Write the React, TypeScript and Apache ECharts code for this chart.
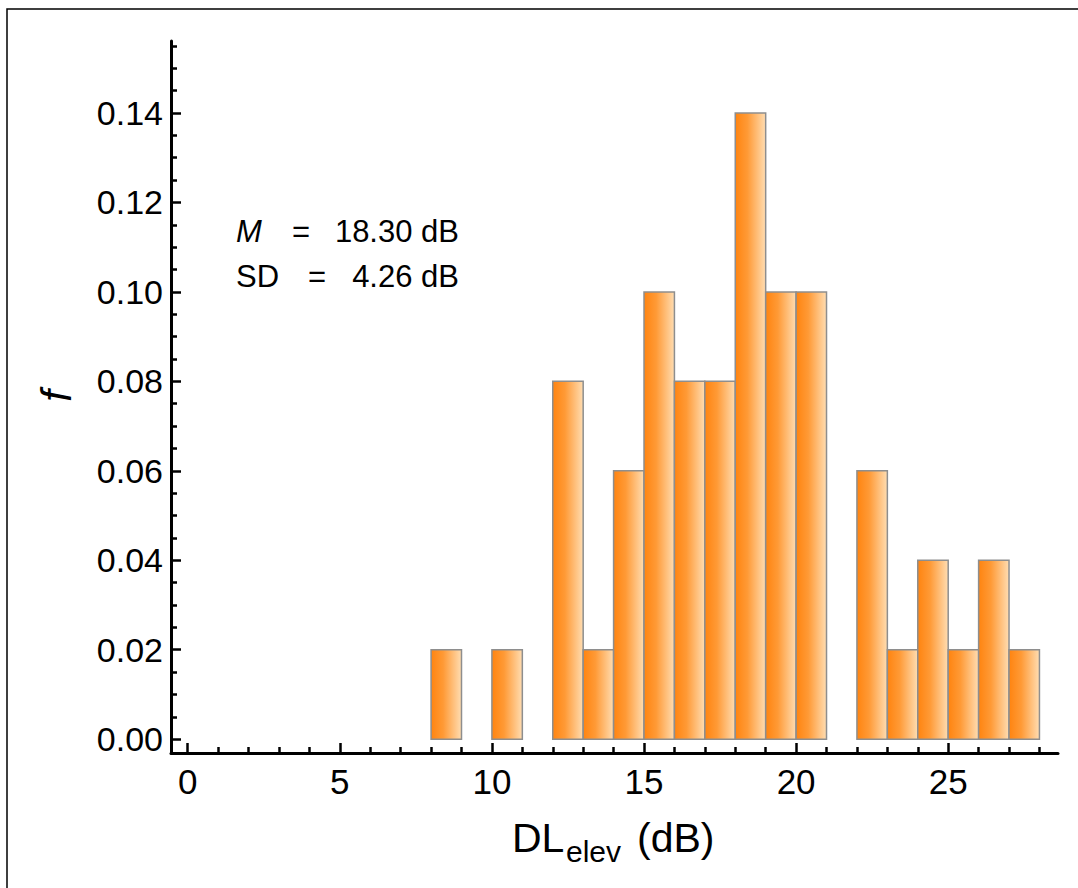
import React, { useEffect, useRef } from "react";
import * as echarts from "echarts";

// Histogram bins (lower edge, dB) and relative frequencies
const binStarts = [8, 10, 12, 13, 14, 15, 16, 17, 18, 19, 20, 22, 23, 24, 25, 26, 27];
const freqs = [0.02, 0.02, 0.08, 0.02, 0.06, 0.1, 0.08, 0.08, 0.14, 0.1, 0.1, 0.06, 0.02, 0.04, 0.02, 0.04, 0.02];
const binWidth = 1;

const xMajor = [0, 5, 10, 15, 20, 25];
const xMinor = [1, 2, 3, 4, 6, 7, 8, 9, 11, 12, 13, 14, 16, 17, 18, 19, 21, 22, 23, 24, 26, 27, 28];
const yMajor = [0, 0.02, 0.04, 0.06, 0.08, 0.1, 0.12, 0.14];
const yMinor = [0.005, 0.01, 0.015, 0.025, 0.03, 0.035, 0.045, 0.05, 0.055, 0.065, 0.07, 0.075, 0.085, 0.09, 0.095, 0.105, 0.11, 0.115, 0.125, 0.13, 0.135, 0.145, 0.15, 0.155];

const statsLabels = ["M", "SD"];
const statsValues = ["18.30 dB", "4.26 dB"];

const X_MIN = -0.55;
const X_MAX = 28.61;
const Y_MIN = -0.0031;
const Y_MAX = 0.1561;

const FONT = "'Liberation Sans', Arial, Helvetica, sans-serif";

export default function App() {
  const ref = useRef<HTMLDivElement>(null);

  useEffect(() => {
    if (!ref.current) return;
    const chart = echarts.init(ref.current, null, { renderer: "svg" });

    const data = binStarts.map((s, i) => [s, s + binWidth, freqs[i]]);

    const gradient = new echarts.graphic.LinearGradient(0, 0, 1, 0, [
      { offset: 0, color: "#FF8410" },
      { offset: 0.4, color: "#FF9A36" },
      { offset: 1, color: "#FFDDB2" },
    ]);

    const axisCommon = {
      type: "value" as const,
      splitLine: { show: false },
    };

    const option: any = {
      animation: false,
      backgroundColor: "#fff",
      grid: { left: 171, right: 20, top: 41, bottom: 135, containLabel: false },
      xAxis: [
        {
          ...axisCommon,
          min: X_MIN,
          max: X_MAX,
          position: "bottom",
          axisLine: { show: true, onZero: false, lineStyle: { color: "#000", width: 3 } },
          axisTick: { show: true, inside: true, length: 10, customValues: xMajor, lineStyle: { color: "#000", width: 2.5 } },
          axisLabel: { show: true, customValues: xMajor, fontSize: 35, color: "#000", margin: 11, fontFamily: FONT },
        },
        {
          ...axisCommon,
          min: X_MIN,
          max: X_MAX,
          position: "bottom",
          axisLine: { show: false, onZero: false },
          axisTick: { show: true, inside: true, length: 6, customValues: xMinor, lineStyle: { color: "#000", width: 2.5 } },
          axisLabel: { show: false },
        },
      ],
      yAxis: [
        {
          ...axisCommon,
          min: Y_MIN,
          max: Y_MAX,
          position: "left",
          axisLine: { show: true, onZero: false, lineStyle: { color: "#000", width: 3 } },
          axisTick: { show: true, inside: true, length: 10, customValues: yMajor, lineStyle: { color: "#000", width: 2.5 } },
          axisLabel: {
            show: true,
            customValues: yMajor,
            fontSize: 34,
            color: "#000",
            margin: 8,
            fontFamily: FONT,
            formatter: (v: number) => v.toFixed(2),
          },
        },
        {
          ...axisCommon,
          min: Y_MIN,
          max: Y_MAX,
          position: "left",
          axisLine: { show: false, onZero: false },
          axisTick: { show: true, inside: true, length: 6, customValues: yMinor, lineStyle: { color: "#000", width: 2.5 } },
          axisLabel: { show: false },
        },
      ],
      series: [
        {
          type: "custom",
          xAxisIndex: 0,
          yAxisIndex: 0,
          data,
          renderItem: (params: any, api: any) => {
            const x0 = api.value(0);
            const x1 = api.value(1);
            const y = api.value(2);
            const p0 = api.coord([x0, y]);
            const p1 = api.coord([x1, 0]);
            return {
              type: "rect",
              shape: { x: p0[0], y: p0[1], width: p1[0] - p0[0], height: p1[1] - p0[1] },
              style: { fill: gradient, stroke: "#8E8E8E", lineWidth: 1.5 },
            };
          },
          encode: { x: [0, 1], y: 2 },
        },
      ],
      graphic: [
        {
          type: "rect",
          shape: { x: 7, y: 9, width: 1200, height: 1000 },
          style: { fill: "none", stroke: "#000", lineWidth: 1.5 },
          silent: true,
        },
        {
          type: "text",
          x: 56,
          y: 396,
          rotation: Math.PI / 2,
          style: { text: "f", fontSize: 42, fontStyle: "italic", fontFamily: FONT, fill: "#000", align: "center", verticalAlign: "middle" },
        },
        {
          type: "text",
          x: 512,
          y: 838,
          style: { text: "DL", fontSize: 41, fontFamily: FONT, fill: "#000", align: "left", verticalAlign: "middle" },
        },
        {
          type: "text",
          x: 566,
          y: 851,
          style: { text: "elev", fontSize: 30, fontFamily: FONT, fill: "#000", align: "left", verticalAlign: "middle" },
        },
        {
          type: "text",
          x: 637,
          y: 838,
          style: { text: "(dB)", fontSize: 41, fontFamily: FONT, fill: "#000", align: "left", verticalAlign: "middle" },
        },
        {
          type: "text",
          x: 236,
          y: 231,
          style: { text: statsLabels[0], fontSize: 31, fontStyle: "italic", fontFamily: FONT, fill: "#000", align: "left", verticalAlign: "middle" },
        },
        {
          type: "text",
          x: 301,
          y: 231,
          style: { text: "=", fontSize: 31, fontFamily: FONT, fill: "#000", align: "center", verticalAlign: "middle" },
        },
        {
          type: "text",
          x: 459,
          y: 231,
          style: { text: statsValues[0], fontSize: 31, fontFamily: FONT, fill: "#000", align: "right", verticalAlign: "middle" },
        },
        {
          type: "text",
          x: 236,
          y: 276,
          style: { text: statsLabels[1], fontSize: 31, fontFamily: FONT, fill: "#000", align: "left", verticalAlign: "middle" },
        },
        {
          type: "text",
          x: 317,
          y: 276,
          style: { text: "=", fontSize: 31, fontFamily: FONT, fill: "#000", align: "center", verticalAlign: "middle" },
        },
        {
          type: "text",
          x: 459,
          y: 276,
          style: { text: statsValues[1], fontSize: 31, fontFamily: FONT, fill: "#000", align: "right", verticalAlign: "middle" },
        },
      ],
    };

    chart.setOption(option);
    return () => chart.dispose();
  }, []);

  return (
    <div
      ref={ref}
      style={{ position: "fixed", left: 0, top: 0, width: 1078, height: 888, background: "#fff" }}
    />
  );
}
